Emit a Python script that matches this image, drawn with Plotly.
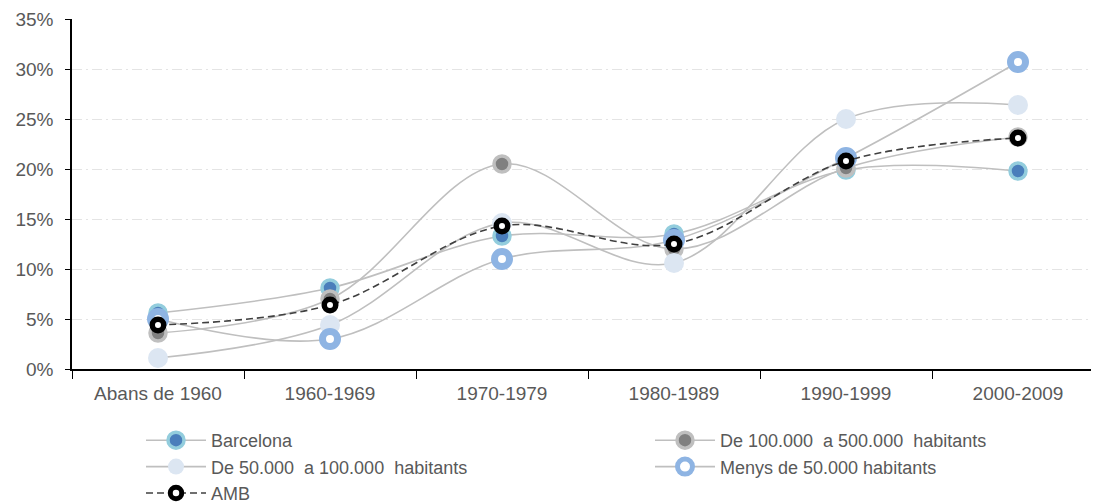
import plotly.graph_objects as go

categories = ["Abans de 1960", "1960-1969", "1970-1979", "1980-1989", "1990-1999", "2000-2009"]
barcelona = [5.6, 8.1, 13.3, 13.5, 19.9, 19.8]
de_100_500 = [3.6, 7.0, 20.5, 12.0, 20.1, 23.2]
de_50_100 = [1.1, 4.4, 14.6, 10.6, 25.0, 26.4]
menys_50 = [5.0, 3.0, 11.0, 12.9, 21.1, 30.7]
amb = [4.4, 6.4, 14.3, 12.5, 20.8, 23.1]

def yvals(v):
    return [x / 100 for x in v]

line_gray = "#bfbfbf"
sm = 1.0

fig = go.Figure()
fig.add_trace(go.Scatter(x=categories, y=yvals(barcelona), name="Barcelona", mode="lines+markers",
    legend="legend",
    line=dict(color=line_gray, width=1.6, shape="spline", smoothing=sm),
    marker=dict(size=16, color="#4a7ebb", line=dict(color="#93cddd", width=3.5))))
fig.add_trace(go.Scatter(x=categories, y=yvals(de_100_500), name="De 100.000  a 500.000  habitants", mode="lines+markers",
    legend="legend2",
    line=dict(color=line_gray, width=1.6, shape="spline", smoothing=sm),
    marker=dict(size=16, color="#808080", line=dict(color="#bfbfbf", width=3.5))))
fig.add_trace(go.Scatter(x=categories, y=yvals(de_50_100), name="De 50.000  a 100.000  habitants", mode="lines+markers",
    legend="legend",
    line=dict(color=line_gray, width=1.6, shape="spline", smoothing=sm),
    marker=dict(size=20, color="#dce6f2", line=dict(color="#dce6f2", width=0))))
fig.add_trace(go.Scatter(x=categories, y=yvals(menys_50), name="Menys de 50.000 habitants", mode="lines+markers",
    legend="legend2",
    line=dict(color=line_gray, width=1.6, shape="spline", smoothing=sm),
    marker=dict(size=15, color="white", line=dict(color="#8eb4e3", width=7))))
fig.add_trace(go.Scatter(x=categories, y=yvals(amb), name="AMB", mode="lines+markers",
    legend="legend",
    line=dict(color="#404040", width=1.6, dash="7px,4px", shape="spline", smoothing=sm),
    marker=dict(size=11.5, color="white", line=dict(color="black", width=5.5))))

W, H = 1099, 502
L, T, R, B = 64, 11, 3, 0
plot_w = W - L - R
plot_h = H - T - B
ydom0 = (H - B - 361) / plot_h
leg_top = (H - B - 414) / plot_h

legend_font = dict(size=18, color="#595959")
fig.update_layout(
    width=W, height=H,
    margin=dict(l=L, r=R, t=T, b=B, autoexpand=False),
    paper_bgcolor="white", plot_bgcolor="white",
    font=dict(family="Liberation Sans, Arial, sans-serif", size=19, color="#595959"),
    showlegend=True,
    legend=dict(x=(133 - L) / plot_w, y=leg_top, xanchor="left", yanchor="top",
                font=legend_font, itemwidth=60, tracegroupgap=0, bgcolor="rgba(0,0,0,0)"),
    legend2=dict(x=(642 - L) / plot_w, y=leg_top, xanchor="left", yanchor="top",
                 font=legend_font, itemwidth=60, tracegroupgap=0, bgcolor="rgba(0,0,0,0)"),
)
fig.update_xaxes(type="category", range=[-0.5, 5.5], showline=True, linecolor="black", linewidth=1.5,
                 ticks="outside", tickson="boundaries", ticklen=8, tickcolor="black", showgrid=False,
                 tickfont=dict(size=19, color="#595959"), ticklabelstandoff=6)
fig.update_yaxes(range=[0, 0.35], dtick=0.05, tickformat=".0%", showline=True, linecolor="black", linewidth=1.5,
                 ticks="outside", ticklen=5, tickcolor="black", showgrid=True, gridcolor="#e4e4e4",
                 griddash="10px,4px,2px,4px", zeroline=False, tickfont=dict(size=19, color="#595959"),
                 ticklabelstandoff=8, domain=[ydom0, 1])

fig.write_html("out.html")
